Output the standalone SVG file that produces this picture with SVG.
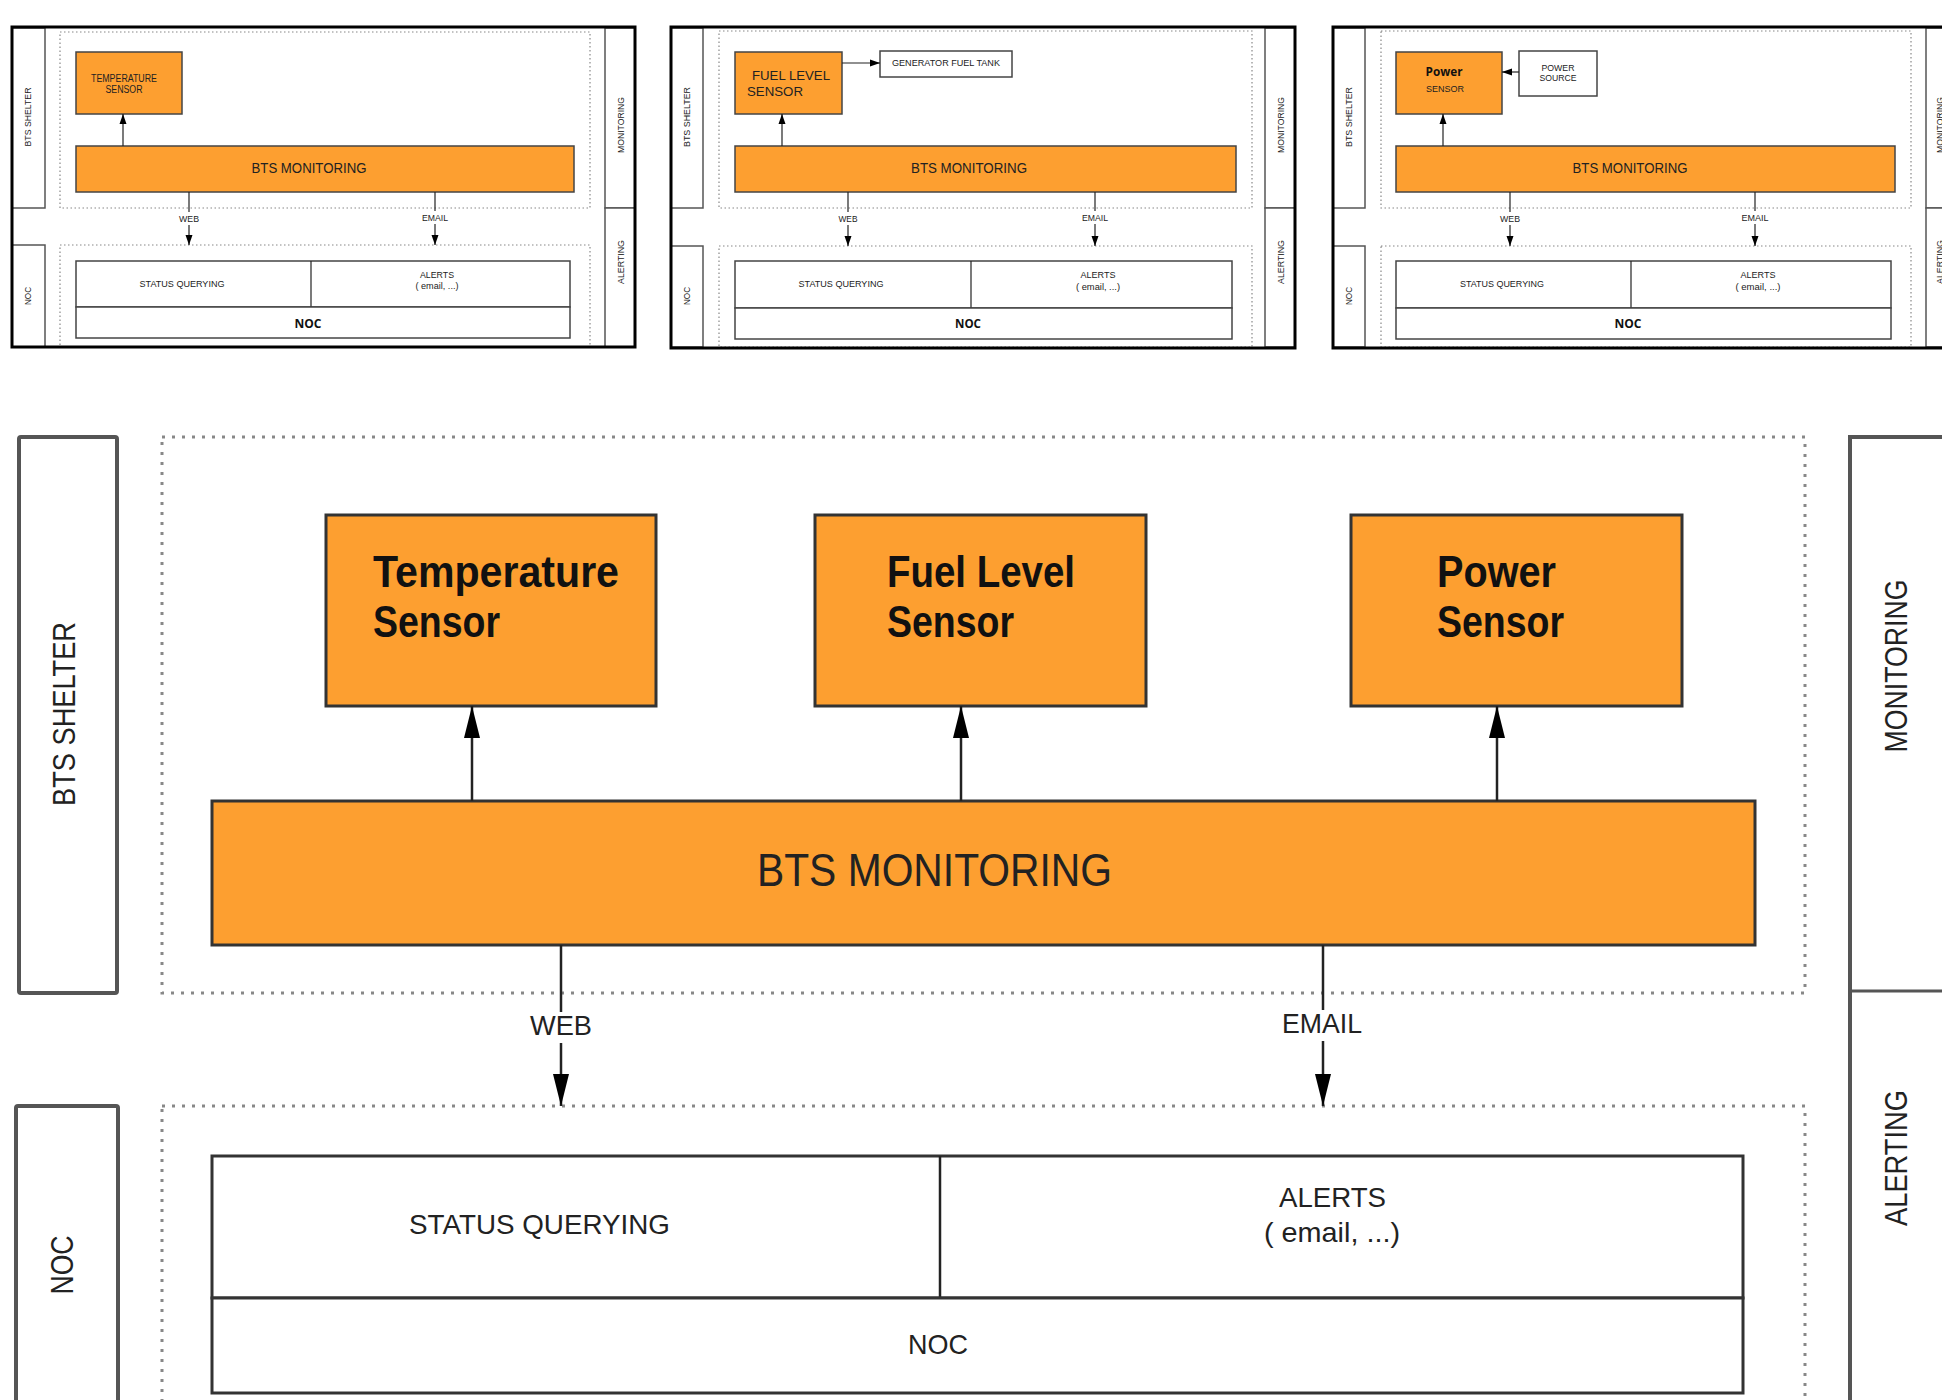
<svg xmlns="http://www.w3.org/2000/svg" width="1942" height="1400" viewBox="0 0 1942 1400">
<style>
.bg{fill:#fff}
.frame{fill:none;stroke:#000;stroke-width:3}
.col{fill:#fff;stroke:#555;stroke-width:1.5}
.dot{fill:none;stroke:#888;stroke-width:1.2;stroke-dasharray:1.5 2.5}
.org{fill:#FD9F30;stroke:#444;stroke-width:1.5}
.wbox{fill:#fff;stroke:#444;stroke-width:1.5}
.ln{fill:none;stroke:#222;stroke-width:1.2}
.t{font-family:"Liberation Sans",Arial,sans-serif;fill:#222}
.tb{font-family:"Open Sans","DejaVu Sans",sans-serif;font-weight:700;fill:#111}
.ts{font-family:"Liberation Sans",Arial,sans-serif;font-weight:700;fill:#111}
.Mcol{fill:#fff;stroke:#555;stroke-width:4}
.Mdot{fill:none;stroke:#888;stroke-width:3;stroke-dasharray:3 7}
.Morg{fill:#FD9F30;stroke:#333;stroke-width:3}
.Mwbox{fill:#fff;stroke:#333;stroke-width:3}
.Mln{fill:none;stroke:#222;stroke-width:2.5}
</style>
<defs>
<marker id="ah" markerUnits="userSpaceOnUse" markerWidth="10" markerHeight="10" viewBox="0 0 10 10" refX="10" refY="5" orient="auto"><path d="M0,1.5 L10,5 L0,8.5 Z" fill="#000"/></marker>
<marker id="AH" markerUnits="userSpaceOnUse" markerWidth="32" markerHeight="20" viewBox="0 0 32 20" refX="32" refY="10" orient="auto"><path d="M0,2 L32,10 L0,18 Z" fill="#000"/></marker>
</defs>
<rect class="bg" x="0" y="0" width="1942" height="1400"/>

<!-- ===== Panel 1 ===== -->
<g id="panel1">
<rect class="col" x="12" y="28" width="33" height="180"/>
<rect class="col" x="12" y="245" width="33" height="102"/>
<rect class="col" x="605" y="28" width="30" height="180"/>
<rect class="col" x="605" y="208" width="30" height="139"/>
<rect class="dot" x="60" y="32" width="530" height="176"/>
<rect class="dot" x="60" y="245" width="530" height="102"/>
<rect class="frame" x="12" y="27" width="623" height="320"/>
<g id="p1-temp"><rect class="org" x="76" y="52" width="106" height="62"/>
<text class="t" x="124" y="82" font-size="10" text-anchor="middle" textLength="66" lengthAdjust="spacingAndGlyphs">TEMPERATURE</text>
<text class="t" x="124" y="93" font-size="10" text-anchor="middle" textLength="37" lengthAdjust="spacingAndGlyphs">SENSOR</text></g>
<g id="p1-bts"><rect class="org" x="76" y="146" width="498" height="46"/>
<text class="t" x="309" y="173" font-size="14" text-anchor="middle" textLength="115" lengthAdjust="spacingAndGlyphs">BTS MONITORING</text></g>
<g id="p1-noc"><rect class="wbox" x="76" y="261" width="494" height="46"/>
<line class="ln" x1="311" y1="261" x2="311" y2="307"/>
<rect class="wbox" x="76" y="307" width="494" height="31"/>
<text class="t" x="182" y="287" font-size="9" text-anchor="middle" textLength="85" lengthAdjust="spacingAndGlyphs">STATUS QUERYING</text>
<text class="t" x="437" y="278" font-size="9" text-anchor="middle" textLength="34" lengthAdjust="spacingAndGlyphs">ALERTS</text>
<text class="t" x="437" y="289" font-size="9" text-anchor="middle" textLength="43" lengthAdjust="spacingAndGlyphs">( email, ...)</text>
<text class="tb" x="308" y="328" font-size="13" text-anchor="middle" textLength="27" lengthAdjust="spacingAndGlyphs">NOC</text></g>
<g class="t" font-size="9" text-anchor="middle">
<text transform="translate(28,117) rotate(-90)" y="3" textLength="59" lengthAdjust="spacingAndGlyphs">BTS SHELTER</text>
<text transform="translate(28,296) rotate(-90)" y="3" textLength="18" lengthAdjust="spacingAndGlyphs">NOC</text>
<text transform="translate(621,125) rotate(-90)" y="3" textLength="56" lengthAdjust="spacingAndGlyphs">MONITORING</text>
<text transform="translate(621,262) rotate(-90)" y="3" textLength="44" lengthAdjust="spacingAndGlyphs">ALERTING</text>
<text x="189" y="222" textLength="20" lengthAdjust="spacingAndGlyphs">WEB</text>
<text x="435" y="221" textLength="26" lengthAdjust="spacingAndGlyphs">EMAIL</text>
</g>
</g>

<!-- ===== Panel 2 ===== -->
<g id="panel2">
<rect class="col" x="671" y="28" width="32" height="180"/>
<rect class="col" x="671" y="246" width="32" height="101"/>
<rect class="col" x="1265" y="28" width="30" height="180"/>
<rect class="col" x="1265" y="208" width="30" height="139"/>
<rect class="dot" x="719" y="31" width="533" height="177"/>
<rect class="dot" x="719" y="246" width="533" height="101"/>
<rect class="frame" x="671" y="27" width="624" height="321"/>
<g id="p2-fuel"><rect class="org" x="735" y="52" width="107" height="62"/>
<text class="t" x="752" y="80" font-size="13" textLength="78" lengthAdjust="spacingAndGlyphs">FUEL LEVEL</text>
<text class="t" x="747" y="96" font-size="13" textLength="56" lengthAdjust="spacingAndGlyphs">SENSOR</text></g>
<g id="p2-tank"><rect class="wbox" x="880" y="51" width="132" height="26"/>
<text class="t" x="946" y="66" font-size="9" text-anchor="middle" textLength="108" lengthAdjust="spacingAndGlyphs">GENERATOR FUEL TANK</text></g>
<g id="p2-bts"><rect class="org" x="735" y="146" width="501" height="46"/>
<text class="t" x="969" y="173" font-size="14" text-anchor="middle" textLength="116" lengthAdjust="spacingAndGlyphs">BTS MONITORING</text></g>
<g id="p2-noc"><rect class="wbox" x="735" y="261" width="497" height="47"/>
<line class="ln" x1="971" y1="261" x2="971" y2="308"/>
<rect class="wbox" x="735" y="308" width="497" height="31"/>
<text class="t" x="841" y="287" font-size="9" text-anchor="middle" textLength="85" lengthAdjust="spacingAndGlyphs">STATUS QUERYING</text>
<text class="t" x="1098" y="278" font-size="9" text-anchor="middle" textLength="35" lengthAdjust="spacingAndGlyphs">ALERTS</text>
<text class="t" x="1098" y="290" font-size="9" text-anchor="middle" textLength="44" lengthAdjust="spacingAndGlyphs">( email, ...)</text>
<text class="tb" x="968" y="328" font-size="13" text-anchor="middle" textLength="26" lengthAdjust="spacingAndGlyphs">NOC</text></g>
<g class="t" font-size="9" text-anchor="middle">
<text transform="translate(687,117) rotate(-90)" y="3" textLength="60" lengthAdjust="spacingAndGlyphs">BTS SHELTER</text>
<text transform="translate(687,296) rotate(-90)" y="3" textLength="18" lengthAdjust="spacingAndGlyphs">NOC</text>
<text transform="translate(1281,125) rotate(-90)" y="3" textLength="56" lengthAdjust="spacingAndGlyphs">MONITORING</text>
<text transform="translate(1281,262) rotate(-90)" y="3" textLength="44" lengthAdjust="spacingAndGlyphs">ALERTING</text>
<text x="848" y="222" textLength="19" lengthAdjust="spacingAndGlyphs">WEB</text>
<text x="1095" y="221" textLength="26" lengthAdjust="spacingAndGlyphs">EMAIL</text>
</g>
</g>

<!-- ===== Panel 3 ===== -->
<g id="panel3">
<rect class="col" x="1333" y="28" width="32" height="180"/>
<rect class="col" x="1333" y="246" width="32" height="101"/>
<rect class="col" x="1926" y="28" width="30" height="180"/>
<rect class="col" x="1926" y="208" width="30" height="139"/>
<rect class="dot" x="1381" y="31" width="530" height="177"/>
<rect class="dot" x="1381" y="246" width="530" height="101"/>
<path class="frame" d="M1950,27 H1333 V348 H1950"/>
<g id="p3-power"><rect class="org" x="1396" y="52" width="106" height="62"/>
<text class="tb" x="1444" y="76" font-size="12" text-anchor="middle" textLength="37" lengthAdjust="spacingAndGlyphs">Power</text>
<text class="t" x="1445" y="92" font-size="9" text-anchor="middle" textLength="38" lengthAdjust="spacingAndGlyphs">SENSOR</text></g>
<g id="p3-source"><rect class="wbox" x="1519" y="51" width="78" height="45"/>
<text class="t" x="1558" y="71" font-size="9" text-anchor="middle" textLength="33" lengthAdjust="spacingAndGlyphs">POWER</text>
<text class="t" x="1558" y="81" font-size="9" text-anchor="middle" textLength="37" lengthAdjust="spacingAndGlyphs">SOURCE</text></g>
<g id="p3-bts"><rect class="org" x="1396" y="146" width="499" height="46"/>
<text class="t" x="1630" y="173" font-size="14" text-anchor="middle" textLength="115" lengthAdjust="spacingAndGlyphs">BTS MONITORING</text></g>
<g id="p3-noc"><rect class="wbox" x="1396" y="261" width="495" height="47"/>
<line class="ln" x1="1631" y1="261" x2="1631" y2="308"/>
<rect class="wbox" x="1396" y="308" width="495" height="31"/>
<text class="t" x="1502" y="287" font-size="9" text-anchor="middle" textLength="84" lengthAdjust="spacingAndGlyphs">STATUS QUERYING</text>
<text class="t" x="1758" y="278" font-size="9" text-anchor="middle" textLength="35" lengthAdjust="spacingAndGlyphs">ALERTS</text>
<text class="t" x="1758" y="290" font-size="9" text-anchor="middle" textLength="45" lengthAdjust="spacingAndGlyphs">( email, ...)</text>
<text class="tb" x="1628" y="328" font-size="13" text-anchor="middle" textLength="27" lengthAdjust="spacingAndGlyphs">NOC</text></g>
<g class="t" font-size="9" text-anchor="middle">
<text transform="translate(1349,117) rotate(-90)" y="3" textLength="60" lengthAdjust="spacingAndGlyphs">BTS SHELTER</text>
<text transform="translate(1349,296) rotate(-90)" y="3" textLength="18" lengthAdjust="spacingAndGlyphs">NOC</text>
<text transform="translate(1940,125) rotate(-90)" y="3" textLength="56" lengthAdjust="spacingAndGlyphs">MONITORING</text>
<text transform="translate(1940,262) rotate(-90)" y="3" textLength="44" lengthAdjust="spacingAndGlyphs">ALERTING</text>
<text x="1510" y="222" textLength="20" lengthAdjust="spacingAndGlyphs">WEB</text>
<text x="1755" y="221" textLength="27" lengthAdjust="spacingAndGlyphs">EMAIL</text>
</g>
</g>

<!-- ===== Main diagram ===== -->
<g id="main-frames">
<rect class="Mcol" x="19" y="437" width="98" height="556" rx="2"/>
<rect class="Mcol" x="16" y="1106" width="102" height="310" rx="2"/>
<path class="Mcol" d="M1960,437 H1850 V1420"/>
<line x1="1850" y1="991" x2="1960" y2="991" stroke="#555" stroke-width="3"/>
<rect class="Mdot" x="162" y="437" width="1643" height="556"/>
<rect class="Mdot" x="162" y="1106" width="1643" height="320"/>
</g>
<g id="bts-shelter-label"><text class="t" font-size="32" text-anchor="middle" transform="translate(64,714) rotate(-90)" y="11" textLength="184" lengthAdjust="spacingAndGlyphs" fill="#333">BTS SHELTER</text></g>
<g id="noc-label"><text class="t" font-size="32" text-anchor="middle" transform="translate(62,1265) rotate(-90)" y="11" textLength="59" lengthAdjust="spacingAndGlyphs">NOC</text></g>
<g id="monitoring-label"><text class="t" font-size="32" text-anchor="middle" transform="translate(1896,666) rotate(-90)" y="11" textLength="173" lengthAdjust="spacingAndGlyphs">MONITORING</text></g>
<g id="alerting-label"><text class="t" font-size="32" text-anchor="middle" transform="translate(1896,1158) rotate(-90)" y="11" textLength="136" lengthAdjust="spacingAndGlyphs">ALERTING</text></g>

<g id="temperature-sensor"><rect class="Morg" x="326" y="515" width="330" height="191"/>
<text class="ts" x="373" y="587" font-size="44" textLength="246" lengthAdjust="spacingAndGlyphs">Temperature</text>
<text class="ts" x="373" y="637" font-size="44" textLength="127" lengthAdjust="spacingAndGlyphs">Sensor</text></g>
<g id="fuel-level-sensor"><rect class="Morg" x="815" y="515" width="331" height="191"/>
<text class="ts" x="887" y="587" font-size="44" textLength="188" lengthAdjust="spacingAndGlyphs">Fuel Level</text>
<text class="ts" x="887" y="637" font-size="44" textLength="127" lengthAdjust="spacingAndGlyphs">Sensor</text></g>
<g id="power-sensor"><rect class="Morg" x="1351" y="515" width="331" height="191"/>
<text class="ts" x="1437" y="587" font-size="44" textLength="119" lengthAdjust="spacingAndGlyphs">Power</text>
<text class="ts" x="1437" y="637" font-size="44" textLength="127" lengthAdjust="spacingAndGlyphs">Sensor</text></g>
<g id="bts-monitoring"><rect class="Morg" x="212" y="801" width="1543" height="144"/>
<text class="t" x="757" y="886" font-size="46" textLength="355" lengthAdjust="spacingAndGlyphs" fill="#111">BTS MONITORING</text></g>
<g id="noc-services"><rect class="Mwbox" x="212" y="1156" width="1531" height="142"/>
<line class="Mln" x1="940" y1="1156" x2="940" y2="1298"/>
<text class="t" x="409" y="1234" font-size="28" textLength="261" lengthAdjust="spacingAndGlyphs">STATUS QUERYING</text>
<text class="t" x="1279" y="1207" font-size="28" textLength="107" lengthAdjust="spacingAndGlyphs">ALERTS</text>
<text class="t" x="1264" y="1242" font-size="28" textLength="136" lengthAdjust="spacingAndGlyphs">( email, ...)</text></g>
<g id="noc"><rect class="Mwbox" x="212" y="1298" width="1531" height="95"/>
<text class="t" x="908" y="1354" font-size="28" textLength="60" lengthAdjust="spacingAndGlyphs">NOC</text></g>

<g id="connectors">
<line class="ln" x1="123" y1="146" x2="123" y2="114" marker-end="url(#ah)"/>
<line class="ln" x1="189" y1="192" x2="189" y2="212"/>
<line class="ln" x1="189" y1="225" x2="189" y2="245" marker-end="url(#ah)"/>
<line class="ln" x1="435" y1="192" x2="435" y2="211"/>
<line class="ln" x1="435" y1="224" x2="435" y2="245" marker-end="url(#ah)"/>
<line class="ln" x1="782" y1="146" x2="782" y2="114" marker-end="url(#ah)"/>
<line class="ln" x1="842" y1="63" x2="880" y2="63" marker-end="url(#ah)"/>
<line class="ln" x1="848" y1="192" x2="848" y2="212"/>
<line class="ln" x1="848" y1="225" x2="848" y2="246" marker-end="url(#ah)"/>
<line class="ln" x1="1095" y1="192" x2="1095" y2="211"/>
<line class="ln" x1="1095" y1="224" x2="1095" y2="246" marker-end="url(#ah)"/>
<line class="ln" x1="1443" y1="146" x2="1443" y2="114" marker-end="url(#ah)"/>
<line class="ln" x1="1519" y1="72" x2="1502" y2="72" marker-end="url(#ah)"/>
<line class="ln" x1="1510" y1="192" x2="1510" y2="212"/>
<line class="ln" x1="1510" y1="225" x2="1510" y2="246" marker-end="url(#ah)"/>
<line class="ln" x1="1755" y1="192" x2="1755" y2="211"/>
<line class="ln" x1="1755" y1="224" x2="1755" y2="246" marker-end="url(#ah)"/>
<line class="Mln" x1="472" y1="801" x2="472" y2="706" marker-end="url(#AH)"/>
<line class="Mln" x1="961" y1="801" x2="961" y2="706" marker-end="url(#AH)"/>
<line class="Mln" x1="1497" y1="801" x2="1497" y2="706" marker-end="url(#AH)"/>
<line class="Mln" x1="561" y1="945" x2="561" y2="1012"/>
<line class="Mln" x1="561" y1="1043" x2="561" y2="1106" marker-end="url(#AH)"/>
<line class="Mln" x1="1323" y1="945" x2="1323" y2="1010"/>
<line class="Mln" x1="1323" y1="1041" x2="1323" y2="1106" marker-end="url(#AH)"/>
<text class="t" x="561" y="1035" font-size="28" text-anchor="middle" textLength="62" lengthAdjust="spacingAndGlyphs">WEB</text>
<text class="t" x="1322" y="1033" font-size="28" text-anchor="middle" textLength="80" lengthAdjust="spacingAndGlyphs">EMAIL</text>
</g>
</svg>
